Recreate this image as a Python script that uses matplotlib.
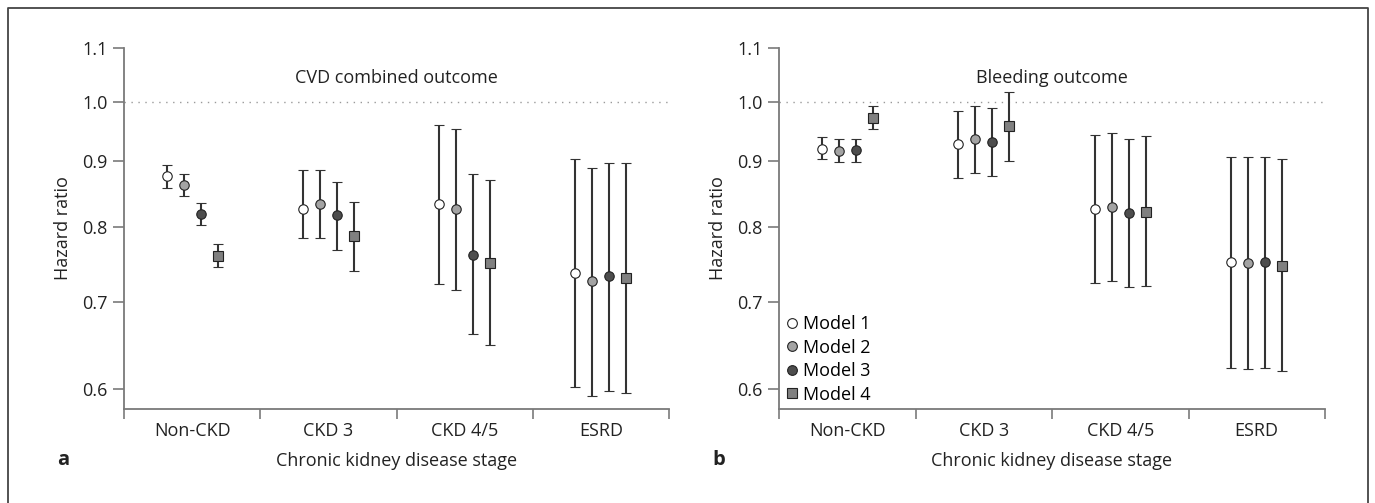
import matplotlib.pyplot as plt
import numpy as np
from matplotlib.lines import Line2D
from matplotlib.ticker import FixedLocator, NullLocator, FixedFormatter

plt.rcParams['font.family'] = ['Open Sans', 'DejaVu Sans']

stages = ["Non-CKD", "CKD 3", "CKD 4/5", "ESRD"]
models = ["Model 1", "Model 2", "Model 3", "Model 4"]

# hazard ratios, rows = models, cols = stages
cvd_hr = [[0.876, 0.826, 0.833, 0.738],
          [0.862, 0.834, 0.826, 0.727],
          [0.819, 0.817, 0.762, 0.733],
          [0.760, 0.787, 0.751, 0.731]]
cvd_lo = [[0.858, 0.784, 0.723, 0.602],
          [0.845, 0.784, 0.716, 0.593],
          [0.803, 0.768, 0.661, 0.598],
          [0.745, 0.740, 0.649, 0.596]]
cvd_hi = [[0.893, 0.885, 0.959, 0.903],
          [0.880, 0.885, 0.952, 0.889],
          [0.835, 0.867, 0.879, 0.897],
          [0.777, 0.837, 0.870, 0.897]]

bleed_hr = [[0.920, 0.927, 0.826, 0.752],
            [0.916, 0.935, 0.829, 0.751],
            [0.917, 0.931, 0.821, 0.752],
            [0.972, 0.957, 0.8225, 0.747]]
bleed_lo = [[0.903, 0.873, 0.725, 0.623],
            [0.898, 0.881, 0.727, 0.622],
            [0.898, 0.876, 0.719, 0.623],
            [0.952, 0.900, 0.720, 0.619]]
bleed_hi = [[0.939, 0.984, 0.942, 0.906],
            [0.936, 0.992, 0.945, 0.906],
            [0.936, 0.989, 0.936, 0.907],
            [0.993, 1.018, 0.941, 0.903]]

yticks = [0.6, 0.7, 0.8, 0.9, 1.0, 1.1]

colors = ["white", "#a3a3a3", "#4d4d4d", "#808080"]
markers = ["o", "o", "o", "s"]
offsets = [-0.1875, -0.0625, 0.0625, 0.1875]
spine_col = "#7a7a7a"
ink = "#333333"
fs = 13

fig = plt.figure(figsize=(13.75, 5.03), dpi=100)
ax_a = fig.add_axes([124/1375, 1-409/503, 545/1375, 361/503])
ax_b = fig.add_axes([779/1375, 1-409/503, 546/1375, 361/503])


def panel(ax, hr, lo, hi, title, letter):
    x = np.arange(len(stages)) + 0.5
    for m in range(len(models)):
        h = np.array(hr[m])
        err = np.vstack([h - np.array(lo[m]), np.array(hi[m]) - h])
        ax.errorbar(x + offsets[m], h, yerr=err, fmt=markers[m], color=ink,
                    ecolor=ink, elinewidth=1.5, capsize=3.5, capthick=1.5,
                    markersize=6.8 if markers[m] == "o" else 6.5,
                    markerfacecolor=colors[m], markeredgecolor="#222222",
                    markeredgewidth=0.8, zorder=3)
    ax.axhline(1.0, color="#9a9a9a", lw=1.0, ls=(0, (1, 4)), zorder=1)
    ax.set_yscale("log")
    ax.set_ylim(0.579, 1.1)
    ax.set_xlim(0, 4)
    ax.yaxis.set_major_locator(FixedLocator(yticks))
    ax.yaxis.set_major_formatter(FixedFormatter(["%.1f" % t for t in yticks]))
    ax.yaxis.set_minor_locator(NullLocator())
    ax.set_xticks([0, 1, 2, 3, 4])
    ax.set_xticklabels([])
    ax.set_xticks(x, minor=True)
    ax.set_xticklabels(stages, minor=True)
    ax.tick_params(axis="x", which="minor", length=0, pad=9, labelsize=fs, labelcolor="#222222")
    ax.tick_params(axis="x", which="major", length=7, width=1.2, color=spine_col)
    ax.tick_params(axis="y", which="major", length=8, width=1.2, color=spine_col,
                   labelsize=fs, labelcolor="#222222", pad=4)
    for s in ["top", "right"]:
        ax.spines[s].set_visible(False)
    for s in ["left", "bottom"]:
        ax.spines[s].set_color(spine_col)
        ax.spines[s].set_linewidth(1.3)
    ax.set_ylabel("Hazard ratio", fontsize=fs, color="#222222", labelpad=7)
    ax.set_xlabel("Chronic kidney disease stage", fontsize=fs, color="#222222", labelpad=9)
    ax.text(0.5, 0.917, title, transform=ax.transAxes, ha="center", va="center",
            fontsize=fs, color="#222222")
    ax.text(-0.122, -0.14, letter, transform=ax.transAxes, ha="left", va="center",
            fontsize=14.5, fontweight="bold", color="#222222")


panel(ax_a, cvd_hr, cvd_lo, cvd_hi, "CVD combined outcome", "a")
panel(ax_b, bleed_hr, bleed_lo, bleed_hi, "Bleeding outcome", "b")

handles = [Line2D([], [], ls="none", marker=markers[m], markersize=7 if m < 3 else 6.5,
                  markerfacecolor=colors[m], markeredgecolor="#222222", markeredgewidth=0.8)
           for m in range(len(models))]
ax_b.legend(handles, models, loc="lower left", frameon=False, fontsize=fs,
            handlelength=0.6, handletextpad=0.35, labelspacing=0.3,
            borderaxespad=0.0, bbox_to_anchor=(0.0, -0.005))

# outer frame (open at the bottom)
fx = [8/1375, 8/1375, 1368/1375, 1368/1375]
fy = [0, 1-8/503, 1-8/503, 0]
fig.add_artist(Line2D(fx, fy, transform=fig.transFigure, color="#444444", lw=1.3))

fig.savefig("out.png", dpi=100)
